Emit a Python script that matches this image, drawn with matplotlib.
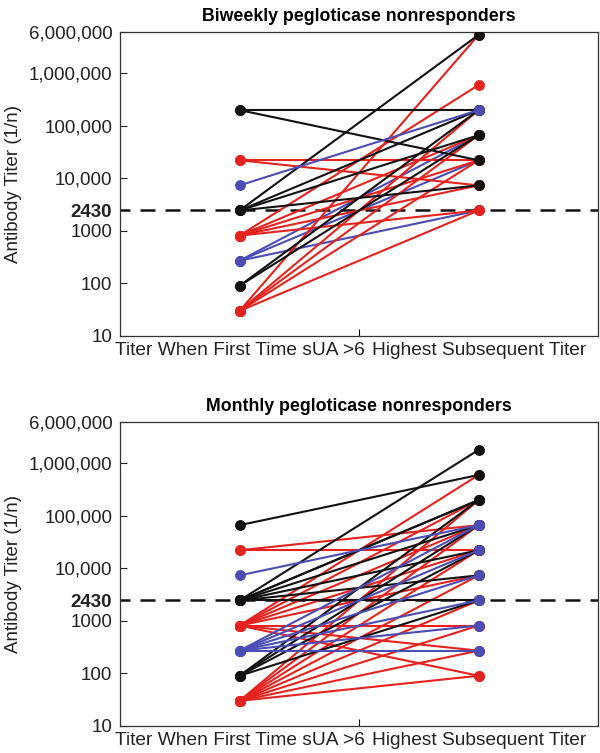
import matplotlib
matplotlib.use("Agg")
import matplotlib.pyplot as plt
import numpy as np

plt.rcParams['font.family'] = ['Liberation Sans', 'DejaVu Sans']

# ---------------- data ----------------
RED = '#e5231e'
BLUE = '#4a4db3'
BLACK = '#111111'

x_labels = ['Titer When First Time sUA >6', 'Highest Subsequent Titer']
ytick_vals = [10, 100, 1000, 2430, 10000, 100000, 1000000, 6000000]
ytick_labels = ['10', '100', '1000', '2430', '10,000', '100,000', '1,000,000', '6,000,000']
threshold = 2430

# Biweekly: (first titer, highest subsequent titer, colour group)
bi_start = [270, 270, 270,
            21870, 21870, 810, 810, 810, 810, 810, 30, 30, 30, 30, 30,
            196830, 196830, 2430, 2430, 2430, 2430, 90, 90,
            7290]
bi_end = [65610, 21870, 2430,
          21870, 7290, 590490, 65610, 21870, 7290, 2430, 5314410, 196830, 65610, 21870, 2430,
          196830, 21870, 5314410, 196830, 65610, 7290, 65610, 196830,
          196830]
bi_col = ['b', 'b', 'b',
          'r', 'r', 'r', 'r', 'r', 'r', 'r', 'r', 'r', 'r', 'r', 'r',
          'k', 'k', 'k', 'k', 'k', 'k', 'k', 'k',
          'b']

# Monthly
mo_start = [21870, 21870, 810, 810, 810, 810, 810, 810, 810, 810,
            30, 30, 30, 30, 30, 30, 30, 30,
            65610, 2430, 2430, 2430, 2430, 2430, 2430, 2430, 90, 90, 90, 90,
            7290, 270, 270, 270, 270, 270, 270]
mo_end = [21870, 65610, 590490, 196830, 65610, 21870, 7290, 810, 270, 90,
          196830, 65610, 21870, 7290, 2430, 810, 270, 90,
          590490, 1771470, 196830, 196830, 65610, 21870, 7290, 2430, 196830, 65610, 21870, 2430,
          65610, 65610, 21870, 7290, 2430, 810, 270]
mo_col = ['r'] * 18 + ['k'] * 12 + ['b'] * 7

colmap = {'r': RED, 'b': BLUE, 'k': BLACK}

fig = plt.figure(figsize=(6.0, 7.53), dpi=100)
ax1 = fig.add_axes([0.2, 0.5538, 0.797, 0.4037])
ax2 = fig.add_axes([0.2, 0.0359, 0.797, 0.4037])


def draw(ax, starts, ends, cols, title):
    for s, e, c in zip(starts, ends, cols):
        ax.plot([0.25, 0.75], [s, e], color=colmap[c], lw=1.5,
                marker='o', ms=6.8, solid_capstyle='butt', zorder=3)
    ax.axhline(threshold, color=BLACK, lw=1.8, ls=(2, (6, 4)), zorder=2)
    ax.set_yscale('log')
    ax.set_ylim(10, 6000000)
    ax.set_xlim(0, 1)
    ax.set_yticks(ytick_vals)
    ax.set_yticklabels(ytick_labels)
    ax.yaxis.set_minor_locator(matplotlib.ticker.NullLocator())
    for lbl, v in zip(ax.get_yticklabels(), ytick_vals):
        if v == threshold:
            lbl.set_fontweight('bold')
    ax.tick_params(axis='y', which='major', direction='in', length=5, width=0.8,
                   labelsize=13.5, pad=5.5, colors='#222222')
    ax.set_xticks([0.5])
    ax.set_xticklabels([''])
    ax.tick_params(axis='x', which='major', direction='in', length=5, width=0.8)
    ax.set_xticks([0.25, 0.75], minor=True)
    ax.set_xticklabels(x_labels, minor=True)
    ax.tick_params(axis='x', which='minor', length=0, labelsize=13.8, pad=4, colors='#222222')
    for sp in ax.spines.values():
        sp.set_linewidth(0.9)
        sp.set_color('#333333')
    ax.set_ylabel('Antibody Titer (1/n)', fontsize=13.5, color='#222222', labelpad=5)
    ax.set_title(title, fontsize=12.8, fontweight='bold', pad=8)


draw(ax1, bi_start, bi_end, bi_col, 'Biweekly pegloticase nonresponders')
draw(ax2, mo_start, mo_end, mo_col, 'Monthly pegloticase nonresponders')

fig.savefig('out.png', dpi=100)
